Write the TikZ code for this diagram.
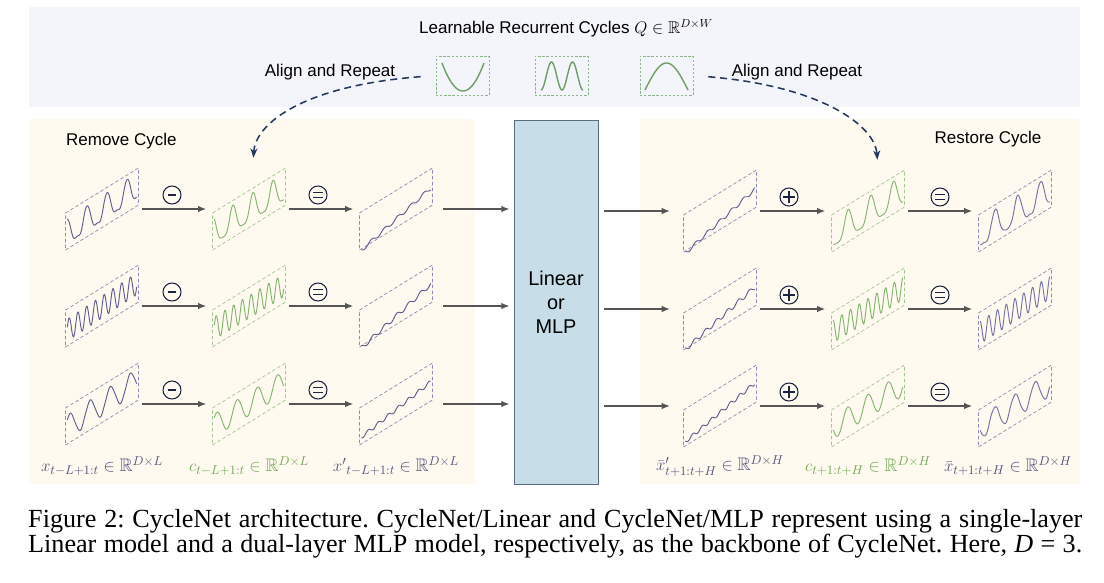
\documentclass[tikz,border=0pt]{standalone}
\usepackage{amsmath}
\usepackage{amssymb}
\usepackage{fontspec}
\setmainfont{Liberation Sans}
\newfontfamily\capfont{Liberation Serif}
\usetikzlibrary{arrows.meta}

\definecolor{bandbg}{HTML}{F4F5FA}
\definecolor{panelbg}{HTML}{FEFAEF}
\definecolor{boxblue}{HTML}{C7DDE7}
\definecolor{boxedge}{HTML}{5C6C80}
\definecolor{flowgray}{HTML}{555555}
\definecolor{navy}{HTML}{22385C}
\definecolor{opnavy}{HTML}{1B2440}
\definecolor{slabpurple}{HTML}{8C8CB4}
\definecolor{wavepurple}{HTML}{5F5F90}
\definecolor{wavelight}{HTML}{7474A2}
\definecolor{slabgreen}{HTML}{A2C892}
\definecolor{wavegreen}{HTML}{86B572}
\definecolor{qgreen}{HTML}{8DB68A}
\definecolor{qwave}{HTML}{6F9E67}
\definecolor{labpurple}{HTML}{54547F}
\definecolor{labgreen}{HTML}{72A856}

% slanted panel holding one series: name, centre, frame colour, curve colour, v(\x)
\newcommand{\waveslab}[5]{%
  \node[slab] (#1) at #2 {};
  \begin{scope}[shift={#2}, x={(1.095cm,0.675cm)}, y={(0cm,0.555cm)}]
    \draw[draw=#3, slabline] (-1,-1) -- (1,-1) -- (1,1) -- (-1,1) -- cycle;
    \draw[draw=#4, waveline] plot[domain=-0.95:0.95, samples=121] (\x, {#5});
  \end{scope}}

\begin{document}
\begin{tikzpicture}[x=0.03cm, y=-0.03cm,
    declare function={spk(\t)=(0.5+0.5*cos(\t))*(0.5+0.5*cos(\t));},
    slab/.style={minimum width=2.19cm, minimum height=2.46cm, inner sep=0pt},
    slabline/.style={line width=0.6pt, dash pattern=on 3pt off 2pt},
    waveline/.style={line width=0.8pt, line join=round},
    flow/.style={draw=flowgray, line width=1.1pt, -{Latex[length=7pt,width=5.5pt]}, shorten <=0.09cm, shorten >=0.18cm},
    cyc/.style={draw=navy, line width=1.3pt, dash pattern=on 6pt off 4pt, -{Stealth[length=8pt,width=6pt]}, shorten <=0.45cm, shorten >=0.3cm},
    op/.style={circle, draw=opnavy, line width=0.9pt, minimum size=0.54cm, inner sep=0pt},
    opminus/.style={op, path picture={\draw[opnavy, line width=1.5pt] ([xshift=-0.13cm]path picture bounding box.center) -- ([xshift=0.13cm]path picture bounding box.center);}},
    opequal/.style={op, path picture={\draw[opnavy, line width=1.3pt] ([xshift=-0.14cm,yshift=0.07cm]path picture bounding box.center) -- ([xshift=0.14cm,yshift=0.07cm]path picture bounding box.center) ([xshift=-0.14cm,yshift=-0.07cm]path picture bounding box.center) -- ([xshift=0.14cm,yshift=-0.07cm]path picture bounding box.center);}},
    opplus/.style={op, path picture={\draw[opnavy, line width=1.1pt] ([xshift=-0.17cm]path picture bounding box.center) -- ([xshift=0.17cm]path picture bounding box.center) ([yshift=-0.17cm]path picture bounding box.center) -- ([yshift=0.17cm]path picture bounding box.center);}},
    qbox/.style={draw=qgreen, line width=0.8pt, dash pattern=on 2pt off 1.5pt, minimum width=1.59cm, minimum height=1.17cm, inner sep=0pt},
    qline/.style={draw=qwave, line width=1.2pt},
    txt/.style={font=\fontsize{14.5}{17}\selectfont},
    lab/.style={font=\fontsize{15.5}{17}\selectfont},
    capline/.style={anchor=base west, inner sep=0pt, font=\capfont\fontsize{22.3}{26}\selectfont\frenchspacing}]

  \useasboundingbox (0,0) rectangle (1104,582);

  % backgrounds
  \fill[bandbg] (29,7) rectangle (1080,107);
  \fill[panelbg] (29,119) rectangle (475,484);
  \fill[panelbg] (640,119) rectangle (1080,484);

  % learnable cycles
  \node[txt] (title) at (566,28) {Learnable Recurrent Cycles $Q \in \mathbb{R}^{D\times W}$};
  \node[txt] (alignl) at (330,72) {Align and Repeat};
  \node[txt] (alignr) at (797,72) {Align and Repeat};
  \node[qbox] (q1) at (462.5,75.5) {};
  \node[qbox] (q2) at (561.5,75.5) {};
  \node[qbox] (q3) at (666.5,75.5) {};
  \draw[qline] plot[domain=442:484, samples=40] (\x, {91-28*(\x-463)*(\x-463)/441});
  \draw[qline] plot[domain=541:583, samples=60] (\x, {76+14*cos(360*(\x-541)/21)});
  \draw[qline] plot[domain=645:688, samples=40] (\x, {90-27*sin(180*(\x-645)/43)});

  % remove cycle
  \node[txt, anchor=west] (remove) at (62,141) {Remove Cycle};
  \waveslab{xin1}{(102,209)}{slabpurple}{wavepurple}{-0.62+1.35*spk(655*(\x-0.14))+0.03*sin(2000*\x)+0.08*\x}
  \waveslab{cin1}{(249,209)}{slabgreen}{wavegreen}{-0.65+1.4*spk(655*(\x-0.11))}
  \waveslab{res1}{(396,209)}{slabpurple}{wavepurple}{-0.55+0.55*\x+0.1*sin(1000*\x+40)}
  \waveslab{xin2}{(102,306)}{slabpurple}{wavepurple}{-0.05+0.6*sin(1500*\x)+0.1*\x}
  \waveslab{cin2}{(249,306)}{slabgreen}{wavegreen}{-0.05+0.62*sin(1500*\x)}
  \waveslab{res2}{(396,306)}{slabpurple}{wavepurple}{-0.55+0.6*\x+0.12*sin(1100*\x+60)}
  \waveslab{xin3}{(102,404)}{slabpurple}{wavepurple}{0.62*sin(650*\x-60)+0.03*sin(2000*\x)+0.1*\x}
  \waveslab{cin3}{(249,404)}{slabgreen}{wavegreen}{0.62*sin(650*\x-60)}
  \waveslab{res3}{(396,404)}{slabpurple}{wavepurple}{-0.3+0.35*\x+0.1*sin(1300*\x)}

  \foreach \r/\h in {1/195,2/292,3/390}{
    \draw[flow] (xin\r.east) -- (cin\r.west);
    \draw[flow] (cin\r.east) -- (res\r.west);
    \node[opminus] (sub\r) at (172,\h) {};
    \node[opequal] (eqa\r) at (318,\h) {};
  }

  % backbone
  \node[draw=boxedge, fill=boxblue, line width=0.8pt, minimum width=2.52cm, minimum height=10.92cm,
        align=center, font=\fontsize{17}{20.5}\selectfont] (nn) at (556,302) {Linear\\or\\MLP};

  % restore cycle
  \node[txt] (restore) at (988,139) {Restore Cycle};
  \waveslab{pred1}{(720,211)}{slabpurple}{wavepurple}{-0.55+0.6*\x+0.1*sin(1100*\x+100)}
  \waveslab{cout1}{(868,211)}{slabgreen}{wavegreen}{-0.7+1.45*spk(580*(\x-0.7))}
  \waveslab{yout1}{(1015,211)}{slabpurple}{wavelight}{-0.7+1.45*spk(580*(\x-0.7))+0.03*sin(2000*\x)}
  \waveslab{pred2}{(720,309)}{slabpurple}{wavepurple}{-0.5+0.55*\x+0.12*sin(1200*\x+200)}
  \waveslab{cout2}{(868,309)}{slabgreen}{wavegreen}{-0.05+0.62*sin(1500*\x+90)}
  \waveslab{yout2}{(1015,309)}{slabpurple}{wavelight}{-0.05+0.62*sin(1500*\x+90)+0.05*\x}
  \waveslab{pred3}{(720,406)}{slabpurple}{wavepurple}{-0.35+0.45*\x+0.1*sin(1400*\x+50)}
  \waveslab{cout3}{(868,406)}{slabgreen}{wavegreen}{0.62*sin(650*\x+90)}
  \waveslab{yout3}{(1015,406)}{slabpurple}{wavelight}{0.62*sin(650*\x+90)+0.03*sin(2000*\x)}

  \foreach \r/\h in {1/197,2/295,3/392}{
    \draw[flow, shorten <=0.32cm, shorten >=0.12cm] (res\r.east) -- (res\r.east -| nn.west);
    \draw[flow] (pred\r.east) -- (cout\r.west);
    \draw[flow] (cout\r.east) -- (yout\r.west);
    \draw[flow, shorten <=0.18cm, shorten >=0.4cm] (nn.east |- pred\r.west) -- (pred\r.west);
    \node[opplus] (add\r) at (789,\h) {};
    \node[opequal] (eqb\r) at (940,\h) {};
  }

  % align and repeat
  \draw[cyc] (q1.west) .. controls (300,86) and (255,125) .. ([xshift=0.12cm]cin1.north);
  \draw[cyc] (q3.east) .. controls (820,86) and (875,125) .. ([xshift=0.3cm]cout1.north);

  % shapes of the series
  \node[lab, text=labpurple] (lxin) at (102,466) {$x_{t-L+1:t}\in\mathbb{R}^{D\times L}$};
  \node[lab, text=labgreen] (lcin) at (249,466) {$c_{t-L+1:t}\in\mathbb{R}^{D\times L}$};
  \node[lab, text=labpurple] (lres) at (396,466) {${x'}_{t-L+1:t}\in\mathbb{R}^{D\times L}$};
  \node[lab, text=labpurple] (lpred) at (720,466) {${\bar{x}'}_{t+1:t+H}\in\mathbb{R}^{D\times H}$};
  \node[lab, text=labgreen] (lcout) at (868,466) {$c_{t+1:t+H}\in\mathbb{R}^{D\times H}$};
  \node[lab, text=labpurple] (lyout) at (1008,466) {$\bar{x}_{t+1:t+H}\in\mathbb{R}^{D\times H}$};

  % caption
  \node[capline] (cap1) at (28,527)
    {\makebox[31.62cm][s]{Figure 2: CycleNet architecture. CycleNet/Linear and CycleNet/MLP represent using a single-layer}};
  \node[capline] (cap2) at (28,552)
    {\makebox[31.62cm][s]{Linear model and a dual-layer MLP model, respectively, as the backbone of CycleNet. Here, \textit{D} = 3.}};
\end{tikzpicture}
\end{document}
